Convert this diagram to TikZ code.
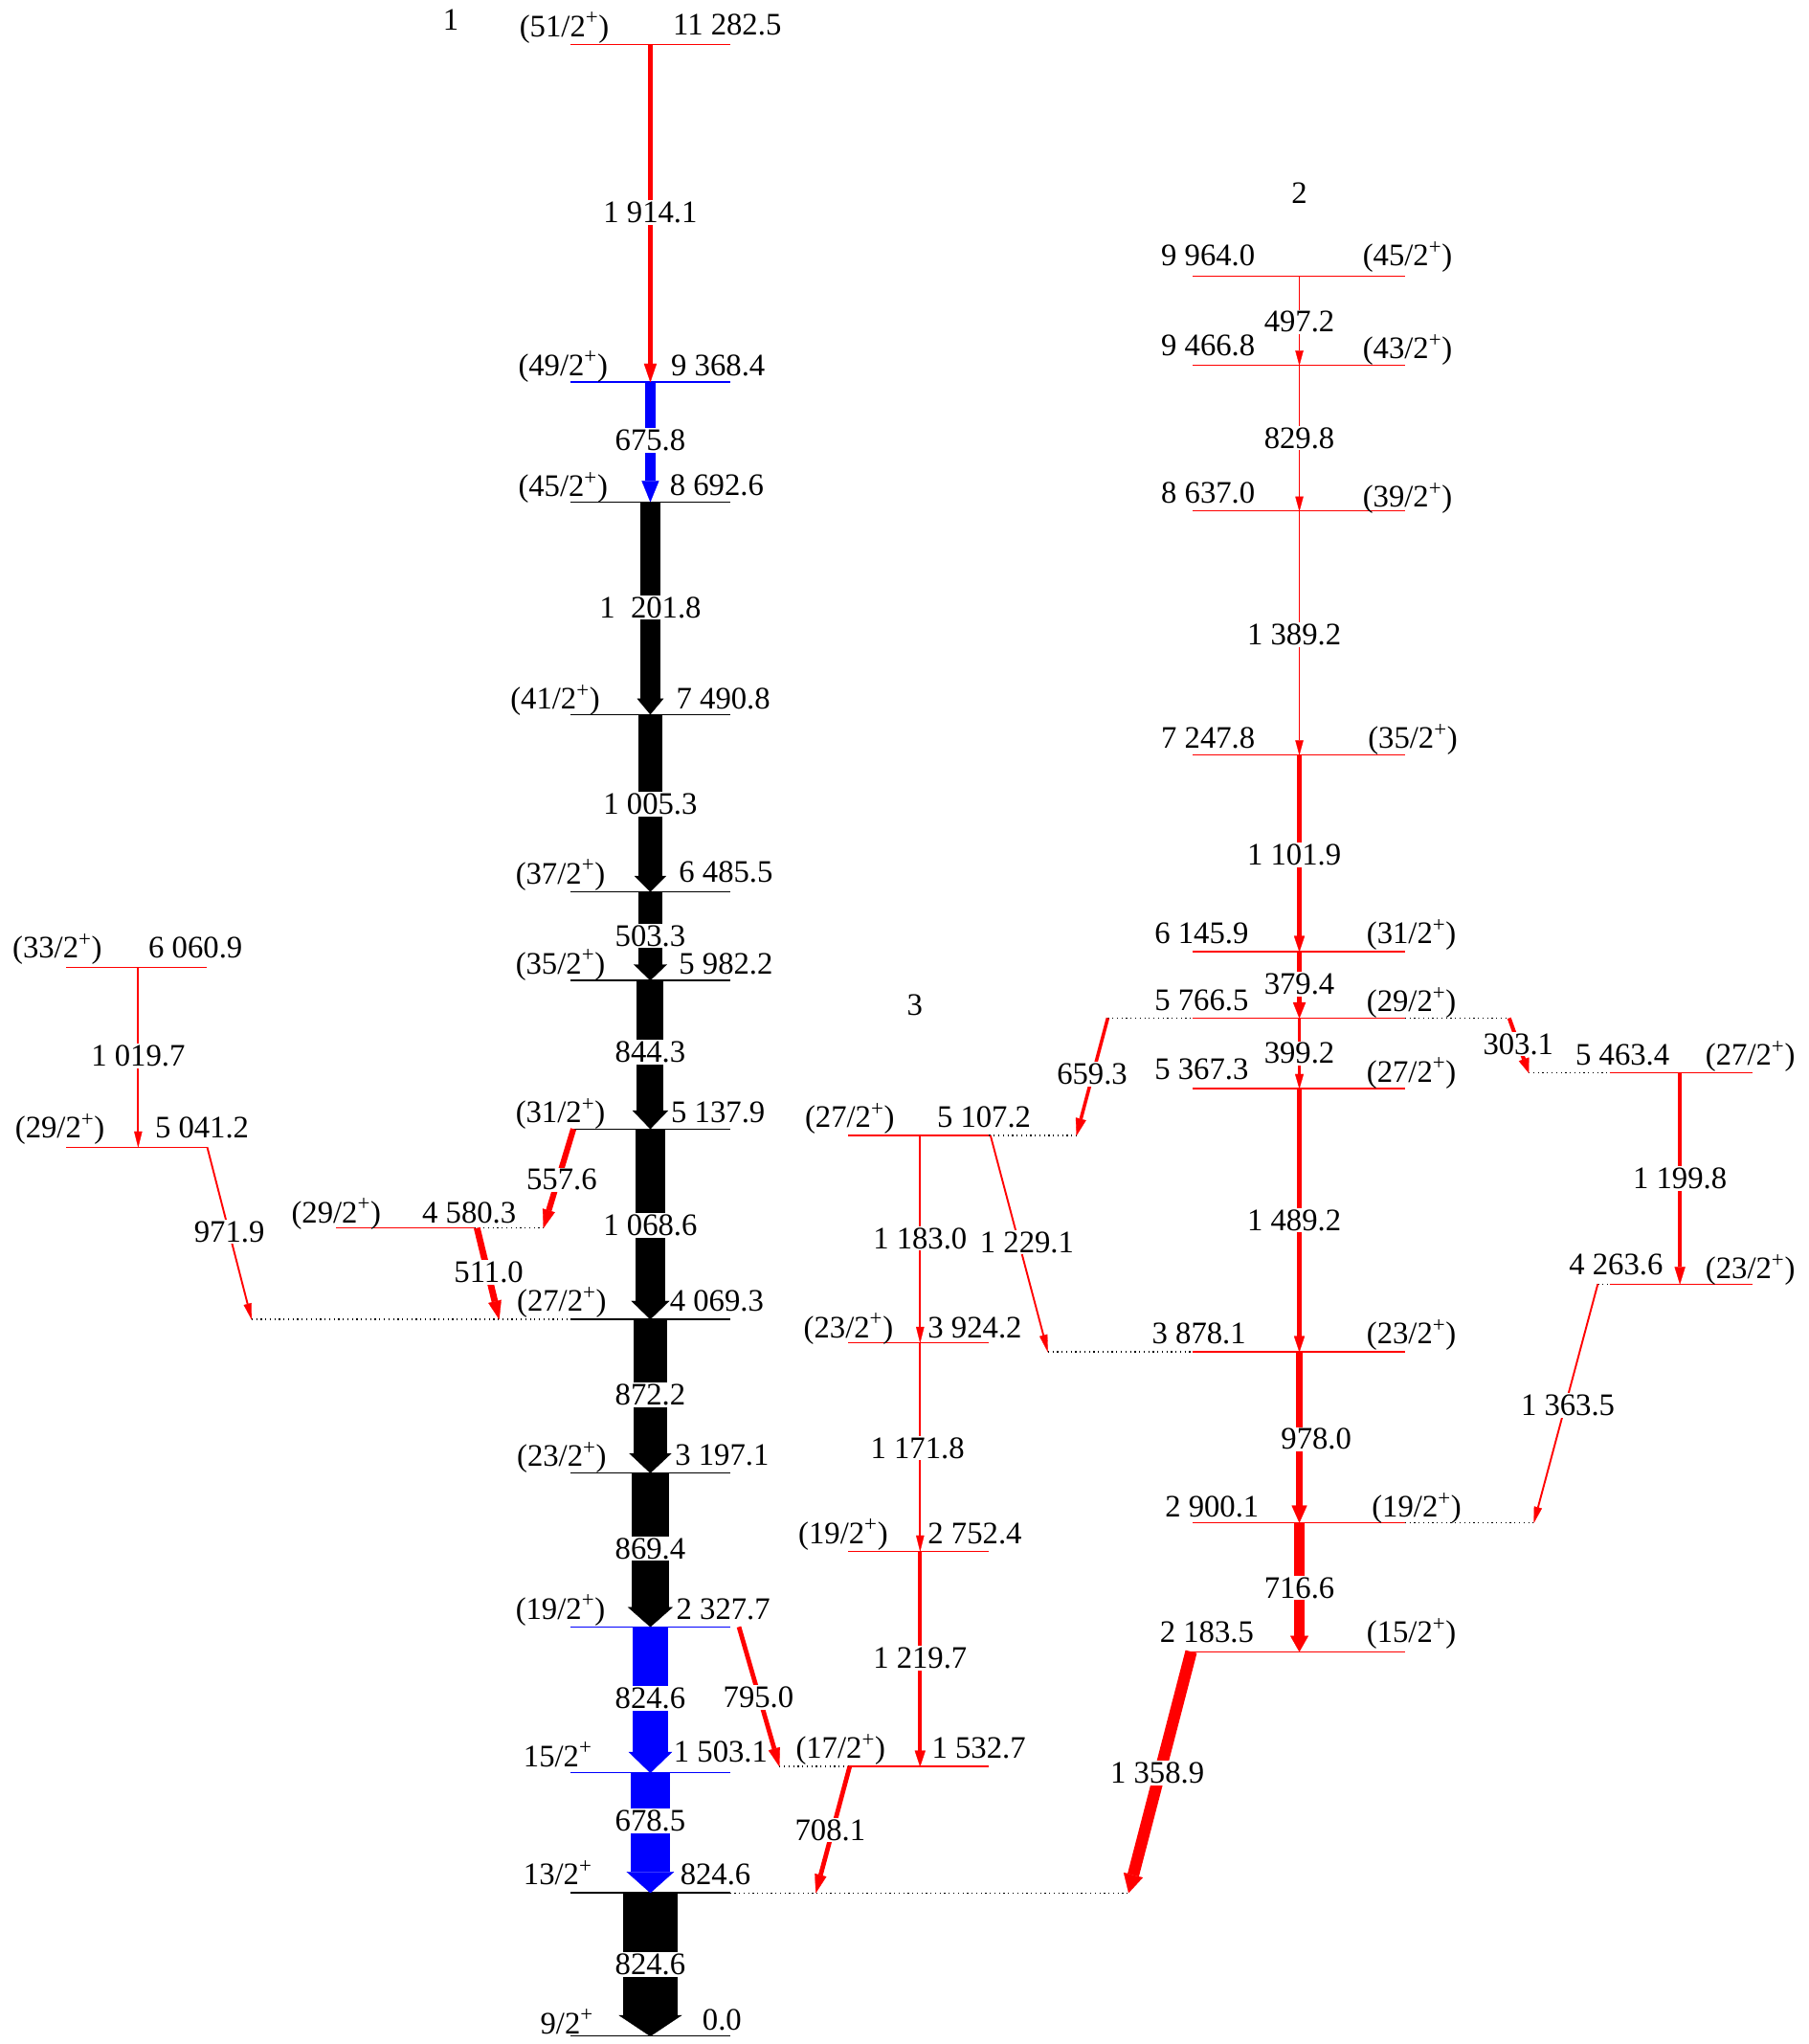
\documentclass[tikz,border=0pt]{standalone}
\usepackage{fontspec}
\setmainfont{Liberation Serif}
\usetikzlibrary{calc}
\definecolor{gred}{RGB}{255,0,0}
\definecolor{gblue}{RGB}{0,0,255}
\newcommand{\jpar}[1]{(#1\textsuperscript{+})}
\newcommand{\jnp}[1]{#1\textsuperscript{+}}
% color, bar width, half head width, head length, from, to
\newcommand{\gam}[6]{%
  \coordinate (gB) at ($(#6)!#4!(#5)$);
  \draw[#1, line width=#2] (#5) -- (gB);
  \filldraw[#1, line width=0.2pt] ($(gB)!#3!90:(#6)$) -- (#6) -- ($(gB)!#3!-90:(#6)$) -- cycle;
}
\tikzset{
  lev/.style={line width=0.9pt},
  dotl/.style={line width=0.8pt, dash pattern=on 0.9pt off 2.6pt},
  elab/.style={anchor=base, inner sep=0pt, font=\fontsize{24}{28}\selectfont},
  glab/.style={fill=white, inner sep=1.2pt, font=\fontsize{24}{28}\selectfont},
}
\begin{document}
\begin{tikzpicture}[x=1pt,y=-1pt]
\useasboundingbox (0,0) rectangle (1388,1568);
\fill[white] (0,0) rectangle (1388,1568);

% ---------- coordinates ----------
% band 1
\coordinate (L11282) at (499,34);
\coordinate (L9368) at (499,293);
\coordinate (L8692) at (499,385);
\coordinate (L7490) at (499,548);
\coordinate (L6485) at (499,684);
\coordinate (L5982) at (499,752);
\coordinate (L5137) at (499,866);
\coordinate (L4069) at (499,1012);
\coordinate (L3197) at (499,1130);
\coordinate (L2327) at (499,1248);
\coordinate (L1503) at (499,1360);
\coordinate (L824) at (499,1452);
\coordinate (L0) at (499,1562);
% band 2
\coordinate (M9964) at (997,212);
\coordinate (M9466) at (997,280);
\coordinate (M8637) at (997,392);
\coordinate (M7247) at (997,579);
\coordinate (M6145) at (997,730);
\coordinate (M5766) at (997,781);
\coordinate (M5367) at (997,835);
\coordinate (M3878) at (997,1037);
\coordinate (M2900) at (997,1168);
\coordinate (M2183) at (997,1267);
% band 3
\coordinate (N5107) at (706,871);
\coordinate (N3924) at (706,1030);
\coordinate (N2752) at (706,1190);
\coordinate (N1532) at (706,1355);
% left
\coordinate (P6060) at (106,742);
\coordinate (P5041) at (106,880);
% right
\coordinate (R5463) at (1289,823);
\coordinate (R4263) at (1289,985);
% ends of side transitions
\coordinate (N5107r) at (760,871);
\coordinate (M3878d) at (804,1037);
\coordinate (M5766d) at (850,781);
\coordinate (N5107d) at (826,871);
\coordinate (N1532x) at (652,1355);
\coordinate (L824d) at (626,1452);
\coordinate (L2327x) at (567,1248);
\coordinate (N1532d) at (598,1355);
\coordinate (P5041r) at (159,880);
\coordinate (L4069d) at (193,1012);
\coordinate (L5137x) at (440,866);
\coordinate (Q4580d) at (417,942);
\coordinate (Q4580x) at (366,942);
\coordinate (L4069e) at (383,1012);
\coordinate (M5766e) at (1158,781);
\coordinate (R5463d) at (1173,823);
\coordinate (R4263x) at (1226,985);
\coordinate (M2900d) at (1177,1168);
\coordinate (M2183x) at (914,1267);
\coordinate (L824e) at (866,1452);

% ---------- level lines ----------
\draw[lev,gred] (438,34) -- (560,34);
\draw[lev,gblue] (438,293) -- (560,293);
\foreach \y in {385,548,684,752,866,1012,1130,1452,1562}
  \draw[lev,black] (438,\y) -- (560,\y);
\draw[lev,gblue] (438,1248) -- (560,1248);
\draw[lev,gblue] (438,1360) -- (560,1360);
\foreach \y in {212,280,392,579,730,781,835,1037,1168}
  \draw[lev,gred] (915,\y) -- (1078,\y);
\draw[lev,gred] (911,1267) -- (1078,1267);
\foreach \y in {871,1030,1190,1355}
  \draw[lev,gred] (651,\y) -- (759,\y);
\draw[lev,gred] (51,742) -- (159,742);
\draw[lev,gred] (51,880) -- (159,880);
\draw[lev,gred] (258,942) -- (364,942);
\draw[lev,gred] (1235,823) -- (1345,823);
\draw[lev,gred] (1235,985) -- (1345,985);

% dotted extensions
\draw[dotl] (L4069d) -- (438,1012);
\draw[dotl] (364,942) -- (Q4580d);
\draw[dotl] (M5766d) -- (915,781);
\draw[dotl] (1078,781) -- (M5766e);
\draw[dotl] (759,871) -- (N5107d);
\draw[dotl] (M3878d) -- (915,1037);
\draw[dotl] (1078,1168) -- (M2900d);
\draw[dotl] (N1532d) -- (651,1355);
\draw[dotl] (560,1452) -- (L824e);
\draw[dotl] (R5463d) -- (1235,823);
\draw[dotl] (R4263x) -- (1235,985);

% ---------- transitions ----------
% band 1
\gam{gred}{3.5pt}{4.8pt}{14pt}{L11282}{L9368}
\gam{gblue}{7.5pt}{6.5pt}{16pt}{L9368}{L8692}
\gam{black}{15pt}{10pt}{12pt}{L8692}{L7490}
\gam{black}{19pt}{12pt}{12pt}{L7490}{L6485}
\gam{black}{19pt}{12.5pt}{12pt}{L6485}{L5982}
\gam{black}{20.5pt}{13.5pt}{14pt}{L5982}{L5137}
\gam{black}{23pt}{14.5pt}{14pt}{L5137}{L4069}
\gam{black}{26pt}{16pt}{15pt}{L4069}{L3197}
\gam{black}{28pt}{17pt}{15pt}{L3197}{L2327}
\gam{gblue}{27pt}{16.5pt}{16pt}{L2327}{L1503}
\gam{gblue}{30pt}{18pt}{16pt}{L1503}{L824}
\gam{black}{42pt}{24pt}{16pt}{L824}{L0}
% band 2
\gam{gred}{1.4pt}{3pt}{11pt}{M9964}{M9466}
\gam{gred}{1.4pt}{3pt}{11pt}{M9466}{M8637}
\gam{gred}{1.4pt}{3pt}{11pt}{M8637}{M7247}
\gam{gred}{3.3pt}{4pt}{12pt}{M7247}{M6145}
\gam{gred}{4.2pt}{4.8pt}{12pt}{M6145}{M5766}
\gam{gred}{2pt}{3.2pt}{11pt}{M5766}{M5367}
\gam{gred}{3.3pt}{4pt}{12pt}{M5367}{M3878}
\gam{gred}{5.5pt}{5.8pt}{13pt}{M3878}{M2900}
\gam{gred}{7.5pt}{6.8pt}{12pt}{M2900}{M2183}
% band 3
\gam{gred}{1.4pt}{3pt}{12pt}{N5107}{N3924}
\gam{gred}{1.4pt}{3pt}{12pt}{N3924}{N2752}
\gam{gred}{3pt}{4pt}{12pt}{N2752}{N1532}
\gam{gred}{1.4pt}{3pt}{13pt}{N5107r}{M3878d}
\gam{gred}{2.6pt}{4pt}{13pt}{M5766d}{N5107d}
\gam{gred}{3.5pt}{4.5pt}{14pt}{N1532x}{L824d}
\gam{gred}{3.5pt}{4.5pt}{14pt}{L2327x}{N1532d}
% left
\gam{gred}{1.4pt}{3pt}{12pt}{P6060}{P5041}
\gam{gred}{1.4pt}{3pt}{12pt}{P5041r}{L4069d}
\gam{gred}{4.5pt}{4.8pt}{14pt}{L5137x}{Q4580d}
\gam{gred}{5pt}{5pt}{14pt}{Q4580x}{L4069e}
% right
\gam{gred}{3pt}{4pt}{11pt}{M5766e}{R5463d}
\gam{gred}{3pt}{4pt}{13pt}{R5463}{R4263}
\gam{gred}{1.4pt}{3pt}{12pt}{R4263x}{M2900d}
\gam{gred}{9pt}{7.5pt}{14pt}{M2183x}{L824e}

% ---------- level labels ----------
\node[elab] (b1) at (346,23) {1};
\node[elab] (b2) at (997,156) {2};
\node[elab] (b3) at (702,779) {3};

\node[elab] (s11282) at (433,28) {\jpar{51/2}};
\node[elab] (e11282) at (558,27) {11 282.5};
\node[elab] (s9368) at (432,288) {\jpar{49/2}};
\node[elab] (e9368) at (551,288) {9 368.4};
\node[elab] (s8692) at (432,381) {\jpar{45/2}};
\node[elab] (e8692) at (550,380) {8 692.6};
\node[elab] (s7490) at (426,544) {\jpar{41/2}};
\node[elab] (e7490) at (555,544) {7 490.8};
\node[elab] (s6485) at (430,678) {\jpar{37/2}};
\node[elab] (e6485) at (557,677) {6 485.5};
\node[elab] (s5982) at (430,747) {\jpar{35/2}};
\node[elab] (e5982) at (557,747) {5 982.2};
\node[elab] (s5137) at (430,861) {\jpar{31/2}};
\node[elab] (e5137) at (551,861) {5 137.9};
\node[elab] (s4069) at (431,1006) {\jpar{27/2}};
\node[elab] (e4069) at (550,1006) {4 069.3};
\node[elab] (s3197) at (431,1125) {\jpar{23/2}};
\node[elab] (e3197) at (554,1124) {3 197.1};
\node[elab] (s2327) at (430,1242) {\jpar{19/2}};
\node[elab] (e2327) at (555,1242) {2 327.7};
\node[elab] (s1503) at (428,1355) {\jnp{15/2}};
\node[elab] (e1503) at (553,1352) {1 503.1};
\node[elab] (s824) at (428,1446) {\jnp{13/2}};
\node[elab] (e824) at (549,1446) {824.6};
\node[elab] (s0) at (435,1560) {\jnp{9/2}};
\node[elab] (e0) at (554,1557) {0.0};

\node[elab] (e9964) at (927,204) {9 964.0};
\node[elab] (s9964) at (1080,204) {\jpar{45/2}};
\node[elab] (e9466) at (927,273) {9 466.8};
\node[elab] (s9466) at (1080,275) {\jpar{43/2}};
\node[elab] (e8637) at (927,386) {8 637.0};
\node[elab] (s8637) at (1080,389) {\jpar{39/2}};
\node[elab] (e7247) at (927,574) {7 247.8};
\node[elab] (s7247) at (1084,574) {\jpar{35/2}};
\node[elab] (e6145) at (922,724) {6 145.9};
\node[elab] (s6145) at (1083,724) {\jpar{31/2}};
\node[elab] (e5766) at (922,775) {5 766.5};
\node[elab] (s5766) at (1083,776) {\jpar{29/2}};
\node[elab] (e5367) at (922,828) {5 367.3};
\node[elab] (s5367) at (1083,830) {\jpar{27/2}};
\node[elab] (e3878) at (920,1031) {3 878.1};
\node[elab] (s3878) at (1083,1031) {\jpar{23/2}};
\node[elab] (e2900) at (930,1164) {2 900.1};
\node[elab] (s2900) at (1087,1164) {\jpar{19/2}};
\node[elab] (e2183) at (926,1260) {2 183.5};
\node[elab] (s2183) at (1083,1260) {\jpar{15/2}};

\node[elab] (s5107) at (652,865) {\jpar{27/2}};
\node[elab] (e5107) at (755,865) {5 107.2};
\node[elab] (s3924) at (651,1026) {\jpar{23/2}};
\node[elab] (e3924) at (748,1026) {3 924.2};
\node[elab] (s2752) at (647,1184) {\jpar{19/2}};
\node[elab] (e2752) at (748,1184) {2 752.4};
\node[elab] (s1532) at (645,1349) {\jpar{17/2}};
\node[elab] (e1532) at (751,1349) {1 532.7};

\node[elab] (s6060) at (44,735) {\jpar{33/2}};
\node[elab] (e6060) at (150,735) {6 060.9};
\node[elab] (s5041) at (46,873) {\jpar{29/2}};
\node[elab] (e5041) at (155,873) {5 041.2};
\node[elab] (s4580) at (258,938) {\jpar{29/2}};
\node[elab] (e4580) at (360,938) {4 580.3};

\node[elab] (e5463) at (1245,817) {5 463.4};
\node[elab] (s5463) at (1343,817) {\jpar{27/2}};
\node[elab] (e4263) at (1240,978) {4 263.6};
\node[elab] (s4263) at (1343,981) {\jpar{23/2}};

% ---------- transition labels ----------
\node[glab] (g1914) at (499,163) {1 914.1};
\node[glab] (g675) at (499,338) {675.8};
\node[glab] (g1201) at (499,466) {1~~201.8};
\node[glab] (g1005) at (499,617) {1 005.3};
\node[glab] (g503) at (499,718) {503.3};
\node[glab] (g844) at (499,807) {844.3};
\node[glab] (g1068) at (499,940) {1 068.6};
\node[glab] (g872) at (499,1070) {872.2};
\node[glab] (g869) at (499,1188) {869.4};
\node[glab] (g824a) at (499,1303) {824.6};
\node[glab] (g678) at (499,1397) {678.5};
\node[glab] (g824b) at (499,1507) {824.6};

\node[glab] (g497) at (997,247) {497.2};
\node[glab] (g829) at (997,336) {829.8};
\node[glab] (g1389) at (993,487) {1 389.2};
\node[glab] (g1101) at (993,656) {1 101.9};
\node[glab] (g379) at (997,755) {379.4};
\node[glab] (g399) at (997,808) {399.2};
\node[glab] (g1489) at (993,936) {1 489.2};
\node[glab] (g978) at (1010,1104) {978.0};
\node[glab] (g716) at (997,1218) {716.6};

\node[glab] (g1183) at (706,950) {1 183.0};
\node[glab] (g1229) at (788,953) {1 229.1};
\node[glab] (g1171) at (704,1111) {1 171.8};
\node[glab] (g1219) at (706,1272) {1 219.7};
\node[glab] (g659) at (838,824) {659.3};
\node[glab] (g708) at (637,1404) {708.1};
\node[glab] (g795) at (582,1302) {795.0};

\node[glab] (g1019) at (106,810) {1 019.7};
\node[glab] (g971) at (176,945) {971.9};
\node[glab] (g557) at (431,905) {557.6};
\node[glab] (g511) at (375,976) {511.0};

\node[glab] (g303) at (1165,801) {303.1};
\node[glab] (g1199) at (1289,904) {1 199.8};
\node[glab] (g1363) at (1203,1078) {1 363.5};
\node[glab] (g1358) at (888,1360) {1 358.9};
\end{tikzpicture}
\end{document}
